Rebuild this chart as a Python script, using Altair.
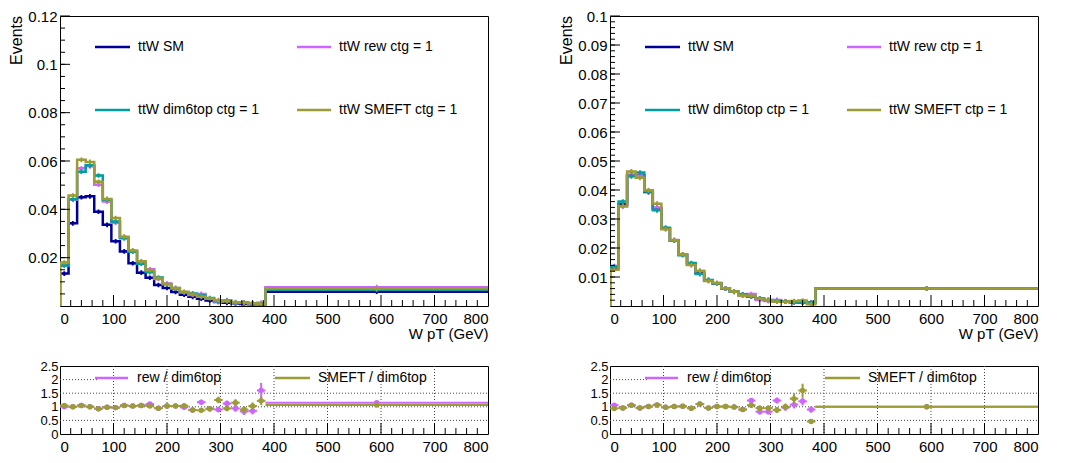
import altair as alt
import pandas as pd

FONT = "Liberation Sans"

# ---------------- data ----------------
bin_edges = [0, 16, 32, 48, 64, 80, 96, 112, 128, 144, 160, 176, 192, 208,
             224, 240, 256, 272, 288, 304, 320, 336, 352, 368, 384, 800]

# left: ctg = 1
ctg_sm = [0.0134, 0.0342, 0.0450, 0.0454, 0.0390, 0.0336, 0.0268, 0.0226, 0.0177, 0.0138,
          0.0117, 0.0087, 0.0075, 0.0058, 0.0047, 0.0038, 0.0030, 0.0023, 0.0017, 0.0013,
          0.0011, 0.0008, 0.0007, 0.0007, 0.0059]
ctg_rew = [0.0168, 0.0440, 0.0570, 0.0578, 0.0502, 0.0432, 0.0345, 0.0285, 0.0226, 0.0180,
           0.0152, 0.0112, 0.0093, 0.0074, 0.0056, 0.0046, 0.0050, 0.0031, 0.0018, 0.0024,
           0.0013, 0.0012, 0.0009, 0.0013, 0.0078]
ctg_dim6top = [0.0168, 0.0442, 0.0556, 0.0582, 0.0540, 0.0440, 0.0350, 0.0280, 0.0225, 0.0175,
               0.0140, 0.0118, 0.0090, 0.0072, 0.0057, 0.0052, 0.0043, 0.0033, 0.0020, 0.0021,
               0.0014, 0.0014, 0.0011, 0.0008, 0.0067]
ctg_smeft = [0.0180, 0.0457, 0.0605, 0.0596, 0.0514, 0.0443, 0.0364, 0.0287, 0.0230, 0.0185,
             0.0148, 0.0114, 0.0091, 0.0074, 0.0059, 0.0048, 0.0038, 0.0031, 0.0024, 0.0020,
             0.0016, 0.0013, 0.0011, 0.0009, 0.0072]
ctg_ratio_rew = [1.00, 1.00, 1.05, 1.00, 0.93, 0.98, 0.97, 1.05, 1.03, 1.05, 1.10, 0.95, 1.03,
                 1.03, 0.98, 0.88, 1.17, 0.93, 0.90, 1.12, 0.94, 0.83, 0.85, 1.60, 1.15]
ctg_ratio_rew_err = [0.04, 0.03, 0.03, 0.03, 0.03, 0.03, 0.04, 0.04, 0.04, 0.05, 0.05, 0.06, 0.06,
                     0.07, 0.07, 0.08, 0.09, 0.10, 0.10, 0.11, 0.12, 0.13, 0.13, 0.28, 0.03]
ctg_ratio_smeft = [1.05, 1.00, 1.05, 1.00, 0.93, 0.98, 0.97, 1.05, 1.03, 1.05, 1.03, 0.95, 1.03,
                   1.03, 1.04, 0.88, 0.87, 0.93, 1.25, 0.94, 1.15, 0.90, 1.03, 1.22, 1.07]
ctg_ratio_smeft_err = [0.04, 0.03, 0.03, 0.03, 0.03, 0.03, 0.04, 0.04, 0.04, 0.05, 0.05, 0.06, 0.06,
                       0.07, 0.07, 0.08, 0.08, 0.09, 0.12, 0.10, 0.13, 0.12, 0.13, 0.16, 0.03]

# right: ctp = 1
ctp_sm = [0.0133, 0.0350, 0.0452, 0.0452, 0.0393, 0.0336, 0.0268, 0.0226, 0.0177, 0.0145,
          0.0115, 0.0089, 0.0078, 0.0060, 0.0049, 0.0039, 0.0033, 0.0025, 0.0020, 0.0017,
          0.0015, 0.0013, 0.0012, 0.0011, 0.0060]
ctp_rew = [0.0138, 0.0343, 0.0450, 0.0450, 0.0398, 0.0340, 0.0266, 0.0228, 0.0178, 0.0142,
           0.0121, 0.0088, 0.0079, 0.0061, 0.0050, 0.0036, 0.0041, 0.0021, 0.0017, 0.0021,
           0.0015, 0.0014, 0.0014, 0.0011, 0.0060]
ctp_dim6top = [0.0135, 0.0360, 0.0447, 0.0460, 0.0395, 0.0330, 0.0270, 0.0225, 0.0175, 0.0148,
               0.0110, 0.0090, 0.0078, 0.0060, 0.0050, 0.0040, 0.0033, 0.0026, 0.0021, 0.0017,
               0.0015, 0.0013, 0.0012, 0.0012, 0.0060]
ctp_smeft = [0.0125, 0.0345, 0.0464, 0.0442, 0.0399, 0.0353, 0.0265, 0.0227, 0.0178, 0.0141,
             0.0121, 0.0086, 0.0079, 0.0061, 0.0050, 0.0036, 0.0035, 0.0025, 0.0020, 0.0015,
             0.0015, 0.0017, 0.0019, 0.0006, 0.0060]
ctp_ratio_rew = [1.06, 0.96, 1.06, 0.96, 1.01, 1.07, 0.98, 1.01, 1.02, 0.95, 1.10, 0.96, 1.01,
                 1.01, 0.99, 0.90, 1.23, 0.82, 0.82, 1.23, 0.97, 1.08, 1.20, 0.90, 1.00]
ctp_ratio_rew_err = [0.04, 0.03, 0.03, 0.03, 0.03, 0.03, 0.04, 0.04, 0.04, 0.05, 0.05, 0.06, 0.06,
                     0.07, 0.07, 0.08, 0.09, 0.10, 0.10, 0.11, 0.12, 0.14, 0.15, 0.12, 0.03]
ctp_ratio_smeft = [0.94, 0.96, 1.06, 0.96, 1.01, 1.07, 0.98, 1.01, 1.02, 0.95, 1.10, 0.96, 1.01,
                   1.01, 0.99, 0.90, 1.06, 0.95, 0.95, 0.88, 1.00, 1.30, 1.60, 0.46, 1.00]
ctp_ratio_smeft_err = [0.04, 0.03, 0.03, 0.03, 0.03, 0.03, 0.04, 0.04, 0.04, 0.05, 0.05, 0.06, 0.06,
                       0.07, 0.07, 0.08, 0.09, 0.10, 0.10, 0.11, 0.12, 0.20, 0.25, 0.06, 0.03]

col_sm = "#000099"
col_rew = "#cc66ff"
col_dim6 = "#009f9f"
col_smeft = "#9c9c36"

# ---------------- layout sizes ----------------
W = 428
H_MAIN = 290
H_RATIO = 68

x_labels = [0, 100, 200, 300, 400, 500, 600, 700, 800]
x_major = [100, 200, 300, 400, 500, 600, 700]
x_minor = [v for v in range(20, 800, 20) if v % 100 != 0]
LABEL_EXPR = "format(datum.value, '.3~g')"


def xscale():
    return alt.Scale(domain=[0, 800], nice=False, zero=False)


def x_tick_layers(H, xax):
    maj = alt.Chart(pd.DataFrame({"x": x_major})).mark_rule(color="black", strokeWidth=1).encode(
        x=alt.X("x:Q", scale=xscale(), axis=xax), y=alt.value(H), y2=alt.value(H - 11))
    mnr = alt.Chart(pd.DataFrame({"x": x_minor})).mark_rule(color="black", strokeWidth=1).encode(
        x=alt.X("x:Q", scale=xscale(), axis=xax), y=alt.value(H), y2=alt.value(H - 6))
    return [maj, mnr]


def legend_entry(label, color, lx0, lx1, tx, ly, fs=14):
    df = pd.DataFrame({"label": [label]})
    line = alt.Chart(df).mark_rule(color=color, strokeWidth=2.5).encode(
        x=alt.value(lx0), x2=alt.value(lx1), y=alt.value(ly))
    txt = alt.Chart(df).mark_text(align="left", baseline="middle", font=FONT, fontSize=fs,
                                  color="black").encode(
        x=alt.value(tx), y=alt.value(ly), text="label:N")
    return [line, txt]


def main_panel(series, ymax, y_major, y_minor_step):
    ysc = alt.Scale(domain=[0, ymax], nice=False, zero=False)
    xax = alt.Axis(values=x_labels, format="d", ticks=False, domain=False, grid=False,
                   labelFont=FONT, labelFontSize=15, labelPadding=5, labelColor="black",
                   title="W pT (GeV)", titleAnchor="end", titleFont=FONT,
                   titleFontSize=15, titleFontWeight="normal", titlePadding=0,
                   titleColor="black")
    yax = alt.Axis(values=y_major, labelExpr=LABEL_EXPR, ticks=False, domain=False, grid=False,
                   labelFont=FONT, labelFontSize=15, labelPadding=3,
                   labelColor="black", labelOverlap=False, title=None)
    layers = []

    for name, vals, color in series:
        xs, ys, os_ = [0], [0], [0]
        k = 1
        for i, v in enumerate(vals):
            xs += [bin_edges[i], bin_edges[i + 1]]
            ys += [v, v]
            os_ += [k, k + 1]
            k += 2
        df = pd.DataFrame({"x": xs, "y": ys, "o": os_})
        layers.append(alt.Chart(df).mark_line(color=color, strokeWidth=2.5, clip=True).encode(
            x=alt.X("x:Q", scale=xscale(), axis=xax),
            y=alt.Y("y:Q", scale=ysc, axis=yax),
            order="o:Q"))
        cdf = pd.DataFrame({"x": [(bin_edges[i] + bin_edges[i + 1]) / 2 for i in range(len(vals))],
                            "y": vals})
        layers.append(alt.Chart(cdf).mark_point(shape="cross", filled=True, size=22, color=color,
                                                opacity=1, clip=True).encode(
            x=alt.X("x:Q", scale=xscale(), axis=xax),
            y=alt.Y("y:Q", scale=ysc, axis=yax)))

    layers += x_tick_layers(H_MAIN, xax)
    ymaj_df = pd.DataFrame({"y": y_major})
    nmin = int(round(ymax / y_minor_step))
    ymin_df = pd.DataFrame({"y": [round(i * y_minor_step, 5) for i in range(1, nmin)]})
    layers.append(alt.Chart(ymaj_df).mark_rule(color="black").encode(
        y=alt.Y("y:Q", scale=ysc, axis=yax), x=alt.value(0), x2=alt.value(10)))
    layers.append(alt.Chart(ymin_df).mark_rule(color="black").encode(
        y=alt.Y("y:Q", scale=ysc, axis=yax), x=alt.value(0), x2=alt.value(5)))

    # y-axis title "Events", top-aligned like ROOT
    tdf = pd.DataFrame({"t": ["Events"]})
    layers.append(alt.Chart(tdf).mark_text(angle=270, align="right", baseline="middle",
                                           font=FONT, fontSize=16, color="black").encode(
        x=alt.value(-43), y=alt.value(0), text="t:N"))

    (n0, _, c0), (n1, _, c1), (n2, _, c2), (n3, _, c3) = series
    layers += legend_entry(n0, c0, 35, 70, 78, 31)
    layers += legend_entry(n1, c1, 237, 271, 279, 31)
    layers += legend_entry(n2, c2, 35, 70, 78, 94)
    layers += legend_entry(n3, c3, 237, 271, 279, 94)
    return alt.layer(*layers).properties(width=W, height=H_MAIN)


def ratio_panel(r1, e1, r2, e2):
    ysc = alt.Scale(domain=[0, 2.5], nice=False, zero=False)
    xax = alt.Axis(values=x_labels, format="d", ticks=False, domain=False, grid=False,
                   labelFont=FONT, labelFontSize=15, labelPadding=5, labelColor="black",
                   title=None)
    yax = alt.Axis(values=[0, 0.5, 1, 1.5, 2, 2.5], labelExpr=LABEL_EXPR, ticks=False,
                   domain=False, grid=False, labelFont=FONT, labelFontSize=13,
                   labelPadding=2, labelColor="black", labelOverlap=False, title=None)
    layers = []
    hgrid = alt.Chart(pd.DataFrame({"y": [0.5, 1, 1.5, 2]})).mark_rule(
        color="#444444", strokeWidth=1, strokeDash=[1, 2]).encode(
        y=alt.Y("y:Q", scale=ysc, axis=yax), x=alt.value(0), x2=alt.value(W))
    layers.append(hgrid)
    box = alt.Chart(pd.DataFrame({"b": [1]})).mark_rect(color="white").encode(
        x=alt.value(37), x2=alt.value(W - 1), y=alt.value(5), y2=alt.value(21))
    layers.append(box)
    vgrid = alt.Chart(pd.DataFrame({"x": x_major})).mark_rule(
        color="#444444", strokeWidth=1, strokeDash=[1, 2]).encode(
        x=alt.X("x:Q", scale=xscale(), axis=xax), y=alt.value(0), y2=alt.value(H_RATIO))
    layers.append(vgrid)
    layers += x_tick_layers(H_RATIO, xax)

    for vals, errs, color in [(r1, e1, col_rew), (r2, e2, col_smeft)]:
        df = pd.DataFrame({
            "x": bin_edges[:-1], "hi": bin_edges[1:],
            "c": [(bin_edges[i] + bin_edges[i + 1]) / 2 for i in range(len(vals))],
            "y": vals,
            "rl": [v - e for v, e in zip(vals, errs)],
            "rh": [v + e for v, e in zip(vals, errs)],
        })
        layers.append(alt.Chart(df).mark_rule(color=color, strokeWidth=2).encode(
            x=alt.X("x:Q", scale=xscale(), axis=xax), x2="hi:Q",
            y=alt.Y("y:Q", scale=ysc, axis=yax)))
        layers.append(alt.Chart(df).mark_rule(color=color, strokeWidth=2).encode(
            x=alt.X("c:Q", scale=xscale(), axis=xax),
            y=alt.Y("rl:Q", scale=ysc, axis=yax), y2="rh:Q"))
        layers.append(alt.Chart(df).mark_circle(color=color, size=30, opacity=1).encode(
            x=alt.X("c:Q", scale=xscale(), axis=xax),
            y=alt.Y("y:Q", scale=ysc, axis=yax)))

    layers += legend_entry("rew / dim6top", col_rew, 35, 68, 77, 12)
    layers += legend_entry("SMEFT / dim6top", col_smeft, 215, 250, 258, 12)
    return alt.layer(*layers).properties(width=W, height=H_RATIO)


main_left = main_panel([
    ("ttW SM", ctg_sm, col_sm),
    ("ttW rew ctg = 1", ctg_rew, col_rew),
    ("ttW dim6top ctg = 1", ctg_dim6top, col_dim6),
    ("ttW SMEFT ctg = 1", ctg_smeft, col_smeft),
], 0.12, [0.02, 0.04, 0.06, 0.08, 0.1, 0.12], 0.005)

main_right = main_panel([
    ("ttW SM", ctp_sm, col_sm),
    ("ttW rew ctp = 1", ctp_rew, col_rew),
    ("ttW dim6top ctp = 1", ctp_dim6top, col_dim6),
    ("ttW SMEFT ctp = 1", ctp_smeft, col_smeft),
], 0.1, [0.01, 0.02, 0.03, 0.04, 0.05, 0.06, 0.07, 0.08, 0.09, 0.1], 0.002)

ratio_left = ratio_panel(ctg_ratio_rew, ctg_ratio_rew_err, ctg_ratio_smeft, ctg_ratio_smeft_err)
ratio_right = ratio_panel(ctp_ratio_rew, ctp_ratio_rew_err, ctp_ratio_smeft, ctp_ratio_smeft_err)

chart = alt.concat(
    main_left, main_right, ratio_left, ratio_right,
    columns=2, spacing={"row": 60, "column": 122}, bounds="flush", align="each"
).properties(padding=0, background="white").configure_view(stroke="black", strokeWidth=1)

chart.save("out.html", embed_options={"renderer": "svg", "actions": False})
